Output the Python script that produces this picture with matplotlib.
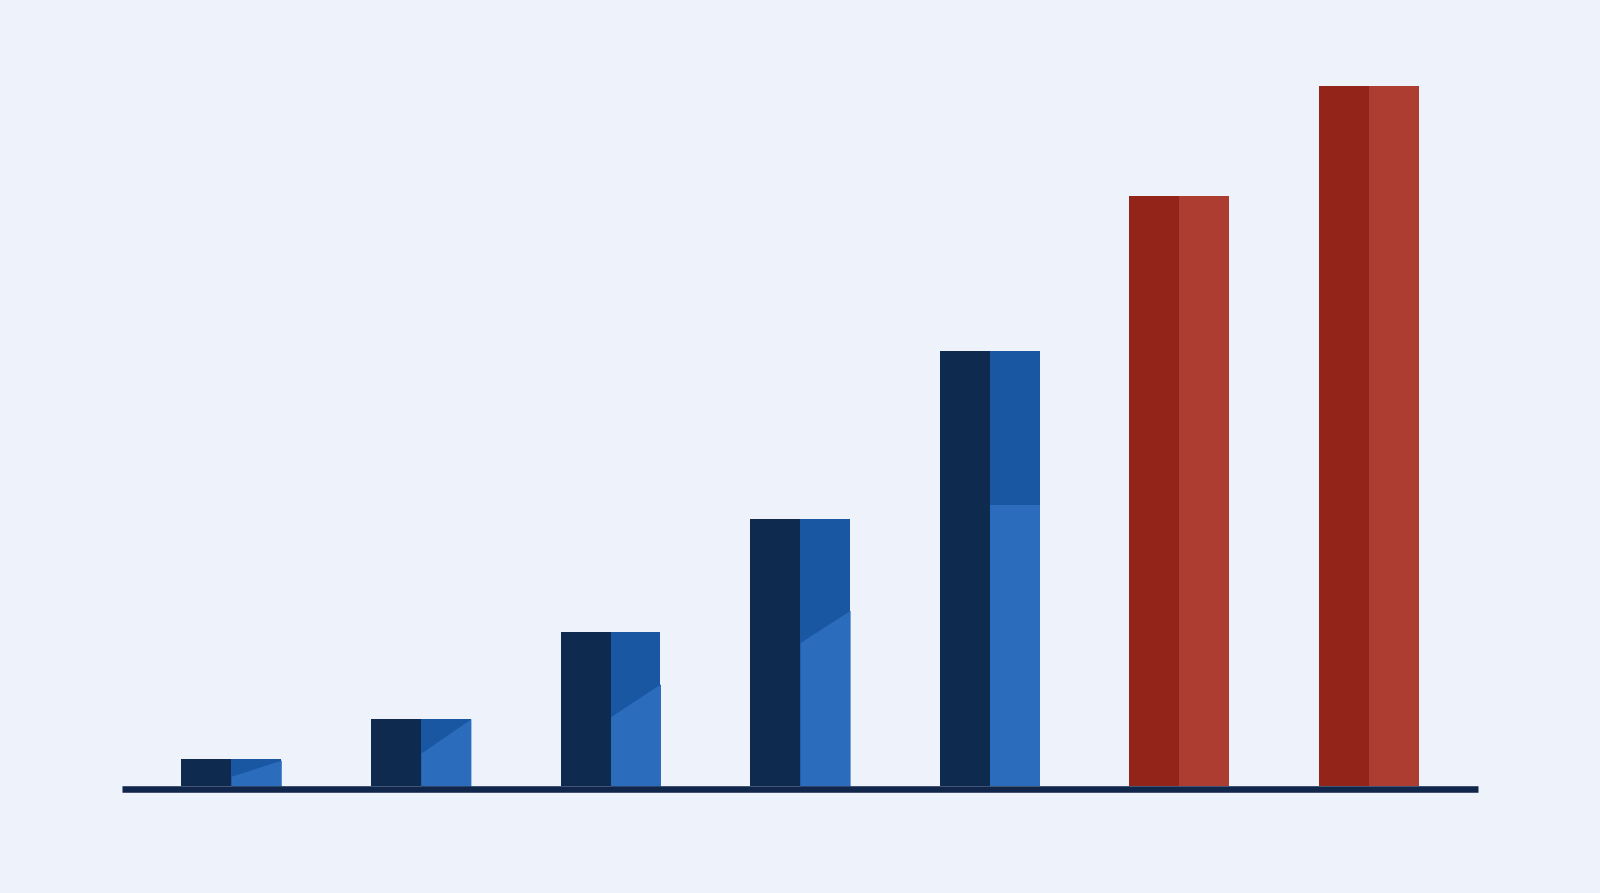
import matplotlib.pyplot as plt
import numpy as np

# data (no labels shown on the chart)
categories = [0, 1, 2, 3, 4, 5, 6]
totals = [3.9, 9.6, 22.0, 38.2, 62.1, 84.3, 100.0]
# lower light-blue part of the right half, at its left and right edge
split_left = [1.4, 4.7, 9.9, 20.5, 40.1, 84.3, 100.0]
split_right = [3.7, 9.6, 14.6, 25.1, 40.1, 84.3, 100.0]
is_red = [False, False, False, False, False, True, True]

# colours
bg = '#eef3fb'
navy = '#0f2a4f'
blue_dark = '#1957a3'
blue_light = '#2b6cbc'
red_dark = '#93241a'
red_light = '#ad3d31'

fig = plt.figure(figsize=(16, 8.93), dpi=100)
fig.patch.set_facecolor(bg)
ax = fig.add_axes([122 / 1600, 103.7 / 893, (1478 - 122) / 1600, (893 - 103.7) / 893])
ax.set_facecolor(bg)

w = 0.527  # full bar width
x = np.array(categories, dtype=float)

left_cols = [red_dark if r else navy for r in is_red]
right_cols = [red_light if r else blue_dark for r in is_red]

# left half of each bar
ax.bar(x - w / 4, totals, w / 2, color=left_cols, linewidth=0, zorder=2)
# right half, full height
ax.bar(x + w / 4, totals, w / 2, color=right_cols, linewidth=0, zorder=2)

# lighter lower part on the blue bars
for i in range(len(categories)):
    if is_red[i]:
        continue
    xs = [x[i], x[i] + w / 2]
    ax.fill_between(xs, [0, 0], [split_left[i], split_right[i]],
                    color=blue_light, linewidth=0, zorder=3)

ax.set_xlim(-0.5765, 6.575)
ax.set_ylim(-3.3 / 7, -3.3 / 7 + (893 - 103.7) / 7)

for s in ['top', 'right', 'left']:
    ax.spines[s].set_visible(False)
ax.spines['bottom'].set_color('#10264a')
ax.spines['bottom'].set_linewidth(4.7)
ax.spines['bottom'].set_capstyle('butt')
ax.spines['bottom'].set_zorder(4)
ax.set_xticks([])
ax.set_yticks([])

fig.savefig('out.png', dpi=100, facecolor=bg)
